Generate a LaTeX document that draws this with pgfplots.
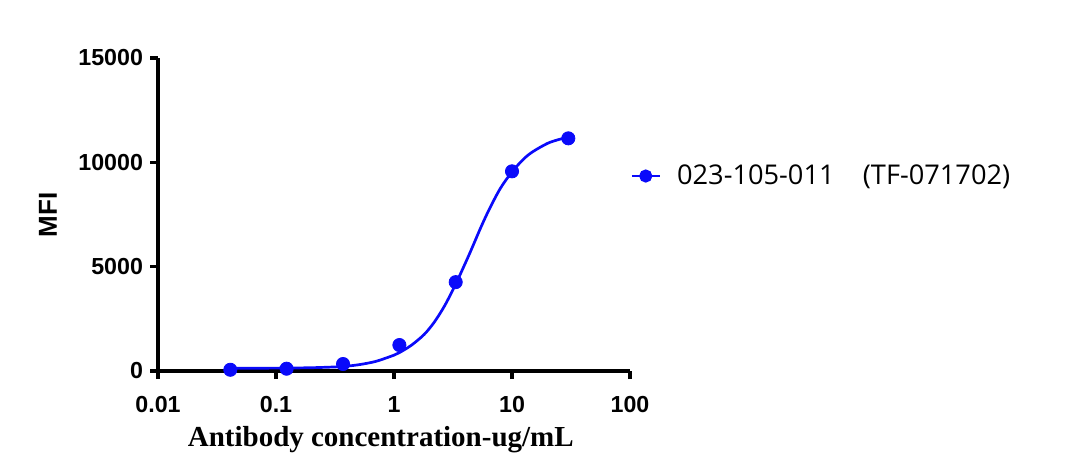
\documentclass[border=0pt]{standalone}
\usepackage{pgfplots}
\pgfplotsset{compat=1.18}
\usepackage{pgfplotstable}
\usepackage{fontspec}
\setmainfont{Liberation Serif}
\setsansfont{Liberation Sans}
\newfontfamily\legfont{Open Sans}

\definecolor{curveblue}{RGB}{10,10,250}

% measured points (3-fold dilution)
\pgfplotstableread{
conc   mfi
0.041  60
0.123  110
0.370  335
1.111  1245
3.333  4260
10.0   9570
30.0   11150
}\measured

% fitted curve
\pgfplotstableread{
conc   mfi
0.041  131
0.07   135
0.123  142
0.2    158
0.3    190
0.37   215
0.5    300
0.7    460
1.0    760
1.11   880
1.4    1230
1.8    1750
2.2    2350
2.7    3150
3.33   4160
4.0    5140
4.5    5790
5.5    6940
6.5    7815
8.0    8770
10.0   9543
12.5   10150
15.0   10510
20.0   10910
25.0   11096
30.0   11200
}\fitted

\begin{document}
\begin{tikzpicture}
\useasboundingbox (-79pt,-48.5pt) rectangle (461pt,185.5pt);
\begin{axis}[
    at={(0,0)}, anchor=south west,
    width=236pt, height=156.5pt, scale only axis,
    xmode=log, xmin=0.01, xmax=100,
    ymin=0, ymax=15000,
    axis x line*=bottom, axis y line*=left,
    axis line style={line width=1.7pt, black},
    tick style={line width=1.7pt, black},
    tick align=outside, major tick length=4pt,
    xminorticks=false, yminorticks=false,
    scaled y ticks=false,
    xtick={0.01,0.1,1,10,100}, xticklabels={0.01,0.1,1,10,100},
    ytick={0,5000,10000,15000}, yticklabels={0,5000,10000,15000},
    ticklabel style={font=\sffamily\bfseries\fontsize{11.6}{11.6}\selectfont},
    xticklabel style={yshift=-5pt},
    xlabel={Antibody concentration-ug/mL},
    ylabel={MFI},
    every axis x label/.style={at={(rel axis cs:0.472,0)}, yshift=-34.5pt, anchor=center,
        font=\rmfamily\bfseries\fontsize{14.5}{14.5}\selectfont},
    every axis y label/.style={at={(rel axis cs:0,0.498)}, xshift=-55pt, rotate=90, anchor=center,
        font=\sffamily\bfseries\fontsize{13}{13}\selectfont},
    legend style={at={(1,0.623)}, anchor=west, draw=none, fill=none, inner sep=0pt,
        font=\legfont\fontsize{13.6}{13.6}\selectfont},
    legend cell align=left,
    legend image code/.code={\draw[mark repeat=2,mark phase=2,#1]
        plot coordinates {(0pt,0pt) (7pt,0pt) (14pt,0pt)}; \path (20pt,0pt);},
    clip=false,
]
\addplot[curveblue, line width=1.35pt, smooth, forget plot] table[x=conc, y=mfi] {\fitted};
\addplot[only marks, mark=*, mark size=3.3pt, curveblue, forget plot] table[x=conc, y=mfi] {\measured};
\addlegendimage{curveblue, line width=1.35pt, mark=*, mark size=2.6pt}
\addlegendentry{023-105-011\ \ \ \ (TF-071702)}
\end{axis}
\end{tikzpicture}
\end{document}
